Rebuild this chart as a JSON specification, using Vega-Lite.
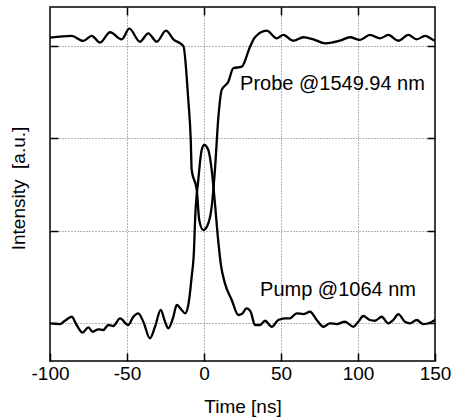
{
  "$schema": "https://vega.github.io/schema/vega-lite/v6.json",
  "width": 385,
  "height": 354,
  "autosize": "none",
  "padding": {"left": 50, "top": 7, "right": 19, "bottom": 59},
  "background": "white",
  "config": {
    "view": {"stroke": "black", "strokeWidth": 1.5},
    "font": "Liberation Sans",
    "axis": {
      "domain": false,
      "tickColor": "black",
      "tickWidth": 1.5,
      "tickSize": -8,
      "gridColor": "#444",
      "gridDash": [1, 2],
      "gridWidth": 0.8,
      "labelFont": "Liberation Sans",
      "labelFontSize": 19,
      "labelColor": "black",
      "titleFont": "Liberation Sans",
      "titleFontSize": 19,
      "titleFontWeight": "normal",
      "titleColor": "black"
    }
  },
  "datasets": {
    "curves": [
      {"series": "Probe", "t": -100, "v": 3.087},
      {"series": "Probe", "t": -85.9, "v": 3.105},
      {"series": "Probe", "t": -78.4, "v": 3.051},
      {"series": "Probe", "t": -72.9, "v": 3.105},
      {"series": "Probe", "t": -67.5, "v": 3.033},
      {"series": "Probe", "t": -61.0, "v": 3.145},
      {"series": "Probe", "t": -53.4, "v": 3.069},
      {"series": "Probe", "t": -48.5, "v": 3.184},
      {"series": "Probe", "t": -41.6, "v": 3.043},
      {"series": "Probe", "t": -36.2, "v": 3.134},
      {"series": "Probe", "t": -30.7, "v": 3.043},
      {"series": "Probe", "t": -24.7, "v": 3.162},
      {"series": "Probe", "t": -19.9, "v": 3.069},
      {"series": "Probe", "t": -13.4, "v": 2.997},
      {"series": "Probe", "t": -10.2, "v": 2.413},
      {"series": "Probe", "t": -8.6, "v": 1.981},
      {"series": "Probe", "t": -8.0, "v": 1.657},
      {"series": "Probe", "t": -4.7, "v": 1.441},
      {"series": "Probe", "t": -3.1, "v": 1.116},
      {"series": "Probe", "t": -0.5, "v": 1.008},
      {"series": "Probe", "t": 2.1, "v": 1.052},
      {"series": "Probe", "t": 5.0, "v": 1.26},
      {"series": "Probe", "t": 7.1, "v": 1.657},
      {"series": "Probe", "t": 9.3, "v": 2.219},
      {"series": "Probe", "t": 11.5, "v": 2.522},
      {"series": "Probe", "t": 15.8, "v": 2.611},
      {"series": "Probe", "t": 19.0, "v": 2.756},
      {"series": "Probe", "t": 24.5, "v": 2.773},
      {"series": "Probe", "t": 29.9, "v": 2.989},
      {"series": "Probe", "t": 33.1, "v": 3.091},
      {"series": "Probe", "t": 40.7, "v": 3.162},
      {"series": "Probe", "t": 47.2, "v": 3.08},
      {"series": "Probe", "t": 51.5, "v": 3.116},
      {"series": "Probe", "t": 58.0, "v": 3.054},
      {"series": "Probe", "t": 64.5, "v": 3.091},
      {"series": "Probe", "t": 71.0, "v": 3.069},
      {"series": "Probe", "t": 78.6, "v": 3.026},
      {"series": "Probe", "t": 88.3, "v": 3.054},
      {"series": "Probe", "t": 94.8, "v": 3.091},
      {"series": "Probe", "t": 101.3, "v": 3.062},
      {"series": "Probe", "t": 107.8, "v": 3.116},
      {"series": "Probe", "t": 114.3, "v": 3.08},
      {"series": "Probe", "t": 119.7, "v": 3.116},
      {"series": "Probe", "t": 126.2, "v": 3.054},
      {"series": "Probe", "t": 132.7, "v": 3.116},
      {"series": "Probe", "t": 138.1, "v": 3.069},
      {"series": "Probe", "t": 143.5, "v": 3.105},
      {"series": "Probe", "t": 148.9, "v": 3.062},
      {"series": "Probe", "t": 150, "v": 3.054},
      {"series": "Pump", "t": -100, "v": 0},
      {"series": "Pump", "t": -93.5, "v": -0.008},
      {"series": "Pump", "t": -90.3, "v": 0.028},
      {"series": "Pump", "t": -85.9, "v": 0.071},
      {"series": "Pump", "t": -82.7, "v": -0.018},
      {"series": "Pump", "t": -78.8, "v": -0.1},
      {"series": "Pump", "t": -75.1, "v": -0.043},
      {"series": "Pump", "t": -72.3, "v": -0.091},
      {"series": "Pump", "t": -68.6, "v": -0.065},
      {"series": "Pump", "t": -65.4, "v": -0.072},
      {"series": "Pump", "t": -62.1, "v": -0.018},
      {"series": "Pump", "t": -58.9, "v": -0.029},
      {"series": "Pump", "t": -54.5, "v": 0.054},
      {"series": "Pump", "t": -49.2, "v": -0.018},
      {"series": "Pump", "t": -45.9, "v": 0.071},
      {"series": "Pump", "t": -42.7, "v": 0.108},
      {"series": "Pump", "t": -39.4, "v": 0.017},
      {"series": "Pump", "t": -35.1, "v": -0.162},
      {"series": "Pump", "t": -31.8, "v": -0.037},
      {"series": "Pump", "t": -28.1, "v": 0.144},
      {"series": "Pump", "t": -25.3, "v": 0.017},
      {"series": "Pump", "t": -23.2, "v": -0.054},
      {"series": "Pump", "t": -19.9, "v": 0.071},
      {"series": "Pump", "t": -17.7, "v": 0.198},
      {"series": "Pump", "t": -14.5, "v": 0.144},
      {"series": "Pump", "t": -12.3, "v": 0.108},
      {"series": "Pump", "t": -10.2, "v": 0.198},
      {"series": "Pump", "t": -8.0, "v": 0.504},
      {"series": "Pump", "t": -6.5, "v": 0.792},
      {"series": "Pump", "t": -5.8, "v": 1.116},
      {"series": "Pump", "t": -3.7, "v": 1.549},
      {"series": "Pump", "t": -1.5, "v": 1.873},
      {"series": "Pump", "t": 0.2, "v": 1.927},
      {"series": "Pump", "t": 2.8, "v": 1.873},
      {"series": "Pump", "t": 5.0, "v": 1.657},
      {"series": "Pump", "t": 7.1, "v": 1.297},
      {"series": "Pump", "t": 9.3, "v": 0.88},
      {"series": "Pump", "t": 11.0, "v": 0.63},
      {"series": "Pump", "t": 13.6, "v": 0.432},
      {"series": "Pump", "t": 18.0, "v": 0.252},
      {"series": "Pump", "t": 22.3, "v": 0.09},
      {"series": "Pump", "t": 24.5, "v": 0.1},
      {"series": "Pump", "t": 27.7, "v": 0.162},
      {"series": "Pump", "t": 30.3, "v": 0.125},
      {"series": "Pump", "t": 33.1, "v": -0.018},
      {"series": "Pump", "t": 36.4, "v": -0.018},
      {"series": "Pump", "t": 39.6, "v": 0.028},
      {"series": "Pump", "t": 44.0, "v": -0.037},
      {"series": "Pump", "t": 48.2, "v": 0.036},
      {"series": "Pump", "t": 52.6, "v": 0.054},
      {"series": "Pump", "t": 55.8, "v": 0.054},
      {"series": "Pump", "t": 60.2, "v": 0.108},
      {"series": "Pump", "t": 64.5, "v": 0.1},
      {"series": "Pump", "t": 68.8, "v": 0.125},
      {"series": "Pump", "t": 73.2, "v": 0.036},
      {"series": "Pump", "t": 77.5, "v": -0.037},
      {"series": "Pump", "t": 81.8, "v": 0},
      {"series": "Pump", "t": 86.2, "v": -0.008},
      {"series": "Pump", "t": 91.6, "v": 0.017},
      {"series": "Pump", "t": 96.9, "v": -0.037},
      {"series": "Pump", "t": 100.2, "v": 0.017},
      {"series": "Pump", "t": 103.4, "v": 0.079},
      {"series": "Pump", "t": 107.8, "v": 0.036},
      {"series": "Pump", "t": 111.0, "v": 0.028},
      {"series": "Pump", "t": 115.4, "v": 0.071},
      {"series": "Pump", "t": 119.7, "v": 0},
      {"series": "Pump", "t": 122.9, "v": 0.036},
      {"series": "Pump", "t": 126.2, "v": 0.1},
      {"series": "Pump", "t": 130.5, "v": 0.017},
      {"series": "Pump", "t": 133.8, "v": 0},
      {"series": "Pump", "t": 138.1, "v": 0.036},
      {"series": "Pump", "t": 142.4, "v": -0.008},
      {"series": "Pump", "t": 146.8, "v": 0.006},
      {"series": "Pump", "t": 150, "v": 0.036}
    ],
    "labels": [
      {"t": 23.4, "v": 2.52, "text": "Probe @1549.94 nm"},
      {"t": 36.4, "v": 0.3, "text": "Pump @1064 nm"}
    ]
  },
  "resolve": {"axis": {"x": "independent", "y": "independent"}},
  "layer": [
    {
      "data": {"name": "curves"},
      "mark": {"type": "line", "interpolate": "monotone", "color": "black", "strokeWidth": 2.3, "clip": true},
      "encoding": {
        "x": {
          "field": "t", "type": "quantitative",
          "scale": {"domain": [-100, 150], "nice": false, "zero": false},
          "axis": {"values": [-100, -50, 0, 50, 100, 150], "labelExpr": "datum.value + ''", "title": "Time [ns]", "labelPadding": 26, "labelBaseline": "alphabetic", "titleBaseline": "alphabetic", "titleY": 51, "grid": true, "labelFlush": false}
        },
        "y": {
          "field": "v", "type": "quantitative",
          "scale": {"domain": [-0.407, 3.418], "nice": false, "zero": false},
          "axis": {"values": [0, 1, 2, 3], "labels": false, "title": "Intensity\u00a0 [a.u.]", "titleX": -22, "titleY": 181, "grid": true}
        },
        "detail": {"field": "series"}
      }
    },
    {
      "data": {"name": "curves"},
      "mark": {"type": "line", "opacity": 0},
      "encoding": {
        "x": {
          "field": "t", "type": "quantitative",
          "axis": {"orient": "top", "values": [-50, 0, 50, 100], "labels": false, "title": null, "grid": false}
        },
        "y": {
          "field": "v", "type": "quantitative",
          "axis": {"orient": "right", "values": [0, 1, 2, 3], "labels": false, "title": null, "grid": false}
        },
        "detail": {"field": "series"}
      }
    },
    {
      "data": {"name": "labels"},
      "mark": {"type": "text", "align": "left", "baseline": "alphabetic", "fontSize": 20, "font": "Liberation Sans", "color": "black"},
      "encoding": {
        "x": {"field": "t", "type": "quantitative", "axis": null},
        "y": {"field": "v", "type": "quantitative", "axis": null},
        "text": {"field": "text"}
      }
    }
  ]
}
